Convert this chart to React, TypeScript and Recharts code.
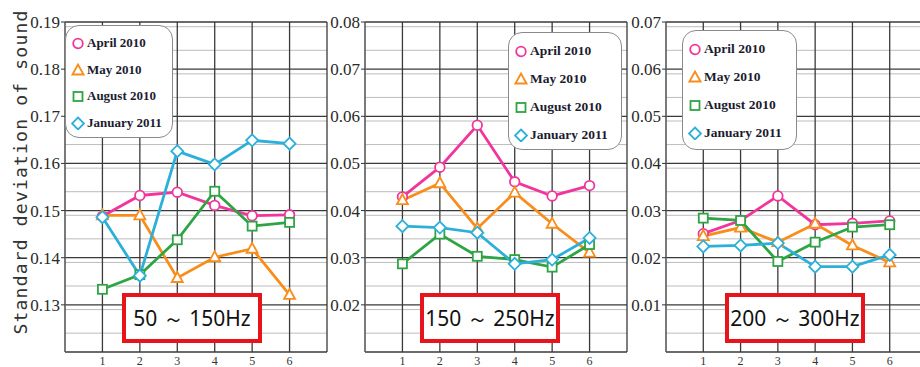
import React from 'react';
import { LineChart, Line, XAxis, YAxis, CartesianGrid } from 'recharts';

// x positions (measurement points)
const points = [1, 2, 3, 4, 5, 6];
const seriesNames = ['April 2010', 'May 2010', 'August 2010', 'January 2011'];

// 50 ~ 150Hz
const low_april = [0.1488, 0.1532, 0.1539, 0.1511, 0.1489, 0.1491];
const low_may = [0.149, 0.149, 0.1357, 0.1401, 0.1419, 0.1321];
const low_august = [0.1333, 0.1364, 0.1438, 0.1541, 0.1467, 0.1475];
const low_january = [0.1486, 0.1362, 0.1626, 0.1598, 0.1649, 0.1642];
const low_ticks = [0.13, 0.14, 0.15, 0.16, 0.17, 0.18, 0.19];

// 150 ~ 250Hz
const mid_april = [0.0429, 0.0492, 0.0581, 0.0461, 0.0431, 0.0453];
const mid_may = [0.0422, 0.0458, 0.0362, 0.0438, 0.0372, 0.0311];
const mid_august = [0.0287, 0.035, 0.0303, 0.0296, 0.028, 0.0328];
const mid_january = [0.0367, 0.0364, 0.0353, 0.0287, 0.0296, 0.0342];
const mid_ticks = [0.02, 0.03, 0.04, 0.05, 0.06, 0.07, 0.08];

// 200 ~ 300Hz
const high_april = [0.0251, 0.0279, 0.0331, 0.027, 0.0273, 0.0278];
const high_may = [0.0246, 0.0264, 0.0233, 0.0272, 0.0226, 0.019];
const high_august = [0.0284, 0.0279, 0.0192, 0.0233, 0.0265, 0.027];
const high_january = [0.0224, 0.0226, 0.0231, 0.0181, 0.0181, 0.0206];
const high_ticks = [0.01, 0.02, 0.03, 0.04, 0.05, 0.06, 0.07];

const COLORS = ['#f0369c', '#f98d1c', '#2fa444', '#2cb0da'];
const SHAPES = ['circle', 'triangle', 'square', 'diamond'];
const KEYS = ['april', 'may', 'august', 'january'];

const build = (a: number[], m: number[], au: number[], j: number[]) =>
  points.map((x, i) => ({ x, april: a[i], may: m[i], august: au[i], january: j[i] }));

const Marker = ({ shape, color, cx, cy }: { shape: string; color: string; cx: number; cy: number }) => {
  const sp = { fill: '#fff', stroke: color, strokeWidth: 1.8 };
  if (shape === 'circle') return <circle cx={cx} cy={cy} r={4.8} {...sp} />;
  if (shape === 'triangle')
    return <polygon points={`${cx},${cy - 6} ${cx - 5.5},${cy + 4} ${cx + 5.5},${cy + 4}`} {...sp} />;
  if (shape === 'square') return <rect x={cx - 4.5} y={cy - 4.5} width={9} height={9} {...sp} />;
  return <polygon points={`${cx},${cy - 6} ${cx + 6},${cy} ${cx},${cy + 6} ${cx - 6},${cy}`} {...sp} />;
};

const serif = '"Liberation Serif", "Times New Roman", serif';

interface PanelProps {
  left: number;
  data: any[];
  domain: [number, number];
  ticks: number[];
  yWidth: number;
  band: string;
  legendPos: { left: number; top: number; width: number; height: number; gap: number; font: number };
  boxLeft: number;
}

const Panel: React.FC<PanelProps> = ({ left, data, domain, ticks, yWidth, band, legendPos, boxLeft }) => {
  const minor: number[] = [];
  for (let k = 1; k < 70; k++) if (k % 10 !== 0) minor.push(domain[0] + k * 0.001);
  const major = [domain[0], ...ticks];
  return (
    <>
      <div style={{ position: 'absolute', left, top: 0 }}>
        <LineChart width={330} height={367} data={data} margin={{ top: 22, right: 3, bottom: 0, left: 0 }}>
          <CartesianGrid horizontalValues={minor} vertical={false} stroke="#bcbcbc" strokeWidth={1} />
          <CartesianGrid
            horizontalValues={major}
            verticalValues={[0, 1, 2, 3, 4, 5, 6, 7]}
            stroke="#3a3a3a"
            strokeWidth={1.3}
          />
          <XAxis
            type="number"
            dataKey="x"
            domain={[0, 7]}
            ticks={points}
            axisLine={false}
            tickLine={false}
            tickMargin={-2}
            height={15}
            tick={{ fill: '#333', fontSize: 12, fontFamily: serif }}
          />
          <YAxis
            type="number"
            domain={domain}
            ticks={ticks}
            allowDataOverflow
            width={yWidth}
            axisLine={{ stroke: '#777' }}
            tickLine={{ stroke: '#333' }}
            tickSize={4}
            tickMargin={1}
            tickFormatter={(v: number) => v.toFixed(2)}
            tick={{ fill: '#2a2a2a', fontSize: 17, fontFamily: serif }}
          />
          {KEYS.map((k, i) => (
            <Line
              key={k}
              dataKey={k}
              stroke={COLORS[i]}
              strokeWidth={2.8}
              isAnimationActive={false}
              dot={(p: any) => (
                <Marker key={`${k}-${p.index}`} shape={SHAPES[i]} color={COLORS[i]} cx={p.cx} cy={p.cy} />
              )}
            />
          ))}
        </LineChart>
      </div>
      <div
        style={{
          position: 'absolute',
          left: legendPos.left,
          top: legendPos.top,
          width: legendPos.width,
          height: legendPos.height,
          background: '#fff',
          border: '1.5px solid #8a8a8a',
          borderRadius: 14,
          boxSizing: 'border-box',
          paddingTop: 4,
        }}
      >
        {seriesNames.map((name, i) => (
          <div key={name} style={{ display: 'flex', alignItems: 'center', height: legendPos.gap, paddingLeft: 5 }}>
            <svg width={14} height={14} style={{ marginRight: 2 }}>
              <Marker shape={SHAPES[i]} color={COLORS[i]} cx={7} cy={7.5} />
            </svg>
            <span
              style={{
                fontFamily: serif,
                fontWeight: 'bold',
                fontSize: legendPos.font,
                color: '#1c1c30',
                whiteSpace: 'nowrap',
              }}
            >
              {name}
            </span>
          </div>
        ))}
      </div>
      <div
        style={{
          position: 'absolute',
          left: boxLeft,
          top: 293,
          width: 140,
          height: 50,
          background: '#fff',
          border: '4px solid #e8141b',
          boxSizing: 'border-box',
          display: 'flex',
          alignItems: 'center',
          justifyContent: 'center',
          fontFamily: '"Noto Sans", "Liberation Sans", sans-serif',
          fontSize: 21,
          color: '#111',
          whiteSpace: 'nowrap',
        }}
      >
        {band}
      </div>
    </>
  );
};

const App: React.FC = () => {
  return (
    <div
      style={{
        position: 'fixed',
        left: 0,
        top: 0,
        width: 920,
        height: 367,
        overflow: 'hidden',
        background: '#fff',
      }}
    >
      <Panel
        left={0}
        data={build(low_april, low_may, low_august, low_january)}
        domain={[0.12, 0.19]}
        ticks={low_ticks}
        yWidth={65}
        band="50 ～ 150Hz"
        legendPos={{ left: 65, top: 25, width: 108, height: 113, gap: 26.5, font: 13 }}
        boxLeft={122}
      />
      <Panel
        left={300}
        data={build(mid_april, mid_may, mid_august, mid_january)}
        domain={[0.01, 0.08]}
        ticks={mid_ticks}
        yWidth={65}
        band="150 ～ 250Hz"
        legendPos={{ left: 508, top: 32, width: 114, height: 118, gap: 28, font: 13.5 }}
        boxLeft={420}
      />
      <Panel
        left={600}
        data={build(high_april, high_may, high_august, high_january)}
        domain={[0, 0.07]}
        ticks={high_ticks}
        yWidth={66}
        band="200 ～ 300Hz"
        legendPos={{ left: 682, top: 30, width: 115, height: 120, gap: 28, font: 13.5 }}
        boxLeft={725}
      />
      <div
        style={{
          position: 'absolute',
          left: 20,
          top: 172,
          transform: 'translate(-50%, -50%) rotate(-90deg)',
          fontFamily: '"DejaVu Sans Mono", monospace',
          fontSize: 18,
          letterSpacing: 1.2,
          color: '#333',
          whiteSpace: 'nowrap',
        }}
      >
        Standard deviation of sound
      </div>
    </div>
  );
};

export default App;
